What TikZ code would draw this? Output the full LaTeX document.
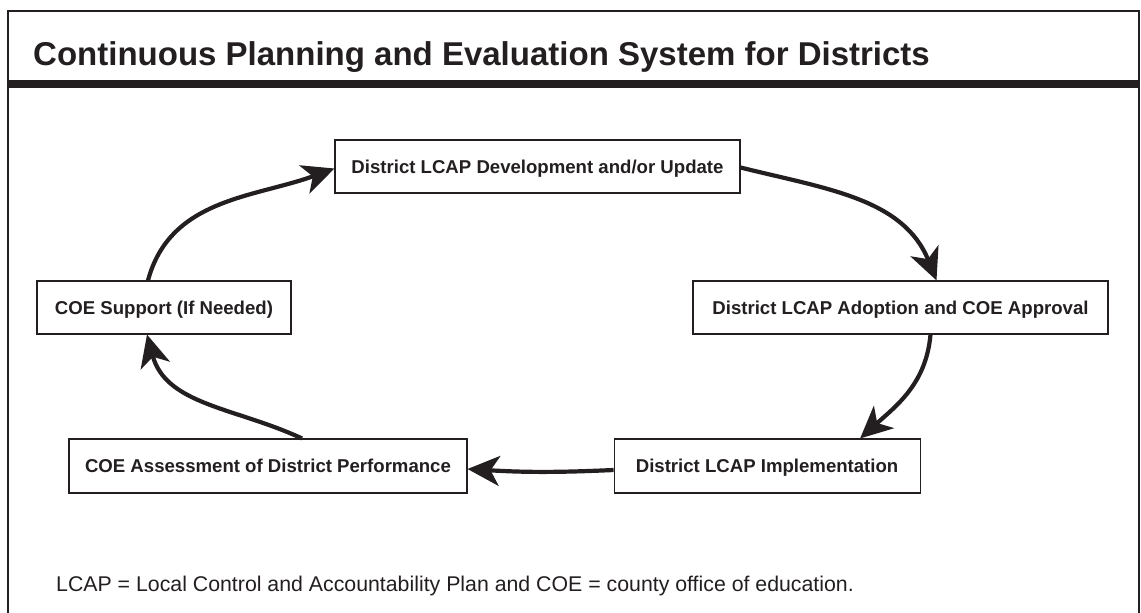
\documentclass[tikz,border=0pt]{standalone}
\usepackage{fontspec}
\setmainfont{Liberation Sans}
\usetikzlibrary{positioning,arrows.meta}
\definecolor{ink}{HTML}{231F20}

\begin{document}
\begin{tikzpicture}[x=1pt,y=1pt]

        \def\d{146pt}

        % Styles of the stage boxes and of the loop arrows
        \tikzset{
            stage/.style={draw=ink, line width=1.1pt, minimum height=53pt,
                inner xsep=0pt, text=ink, text height=13.4pt, text depth=0pt,
                font=\fontsize{18.6}{20}\selectfont\bfseries},
            loop/.style={line width=4.2pt, ink,
                -{Stealth[length=32pt, width=30pt, inset=9pt]}}
        }

        \useasboundingbox (0,0) rectangle (1141,-613);
        \clip (0,0) rectangle (1141,-613);

        % Frame and title band
        \begin{scope}[ink]
            \draw[line width=2.5pt] (8,-640) -- (8,-11) -- (1139,-11) -- (1139,-640);
            \draw[line width=8pt] (8,-84) -- (1139,-84);
            \node (title) [anchor=base west, inner sep=0pt, text=ink,
                font=\fontsize{33}{36}\selectfont\bfseries] at (33,-65)
            {Continuous Planning and Evaluation System for Districts};
        \end{scope}

        % The five stages of the cycle
        \begin{scope}
            \node (dev) [stage, minimum width=405pt] at (537.5,-166.5)
            {District LCAP Development and/or Update};
            \node (adopt) [stage, minimum width=415pt] at (900.5,-307.5)
            {District LCAP Adoption and COE Approval};
            \node (support) [stage, minimum width=254pt] at (164,-307.5)
            {COE Support (If Needed)};
            \node (assess) [stage, minimum width=398pt, minimum height=54pt]
            at (268,-466) {COE Assessment of District Performance};
            \node (impl) [stage, minimum width=306pt, minimum height=54pt,
                right=\d of assess] {District LCAP Implementation};
        \end{scope}

        \begin{scope}[loop]
            \draw ([xshift=-16pt]support.north) to[out=75, in=200]
                ([yshift=-2pt]dev.west);
            \draw ([yshift=-1pt]dev.east) to[out=-14, in=112]
                ([xshift=36pt]adopt.north);
            \draw ([xshift=30pt]adopt.south) to[out=-95, in=42]
                ([xshift=93pt]impl.north);
            \draw ([yshift=-4pt]impl.west) to[bend left=3]
                ([yshift=-3pt]assess.east);
            \draw ([xshift=34pt]assess.north) to[out=155, in=-75]
                ([xshift=-17pt]support.south);
        \end{scope}

        \node (note) [anchor=base west, inner sep=0pt, text=ink,
            font=\fontsize{21.3}{24}\selectfont] at (56,-591)
        {LCAP = Local Control and Accountability Plan and COE = county office of education.};

\end{tikzpicture}
\end{document}
